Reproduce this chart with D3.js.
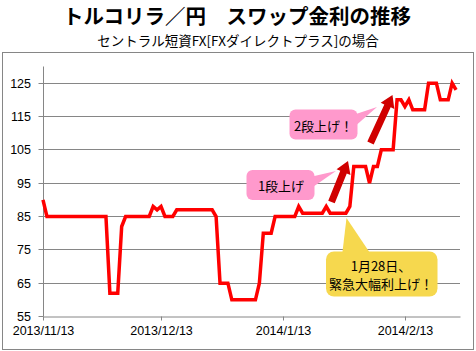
<!DOCTYPE html>
<html><head><meta charset="utf-8">
<script src="https://cdn.jsdelivr.net/npm/d3@7"></script>
<style>body{margin:0;background:#fff}svg{display:block}</style>
</head><body>
<script>
const title = "トルコリラ／円　スワップ金利の推移";
const subtitle = "セントラル短資FX[FXダイレクトプラス]の場合";
const dates = [
"2013-11-13","2013-11-14","2013-11-15","2013-11-16","2013-11-17","2013-11-18","2013-11-19","2013-11-20","2013-11-21","2013-11-22",
"2013-11-23","2013-11-24","2013-11-25","2013-11-26","2013-11-27","2013-11-28","2013-11-29","2013-11-30",
"2013-12-01","2013-12-02","2013-12-03","2013-12-04","2013-12-05","2013-12-06","2013-12-07","2013-12-08","2013-12-09","2013-12-10",
"2013-12-11","2013-12-12","2013-12-13","2013-12-14","2013-12-15","2013-12-16","2013-12-17","2013-12-18","2013-12-19","2013-12-20",
"2013-12-21","2013-12-22","2013-12-23","2013-12-24","2013-12-25","2013-12-26","2013-12-27","2013-12-28","2013-12-29","2013-12-30","2013-12-31",
"2014-01-01","2014-01-02","2014-01-03","2014-01-04","2014-01-05","2014-01-06","2014-01-07","2014-01-08","2014-01-09","2014-01-10",
"2014-01-11","2014-01-12","2014-01-13","2014-01-14","2014-01-15","2014-01-16","2014-01-17","2014-01-18","2014-01-19","2014-01-20",
"2014-01-21","2014-01-22","2014-01-23","2014-01-24","2014-01-25","2014-01-26","2014-01-27","2014-01-28","2014-01-29","2014-01-30","2014-01-31",
"2014-02-01","2014-02-02","2014-02-03","2014-02-04","2014-02-05","2014-02-06","2014-02-07","2014-02-08","2014-02-09","2014-02-10",
"2014-02-11","2014-02-12","2014-02-13","2014-02-14","2014-02-15","2014-02-16","2014-02-17","2014-02-18","2014-02-19","2014-02-20",
"2014-02-21","2014-02-22","2014-02-23","2014-02-24","2014-02-25","2014-02-26"
];
const swap = [
90,85,85,85,85,85,85,85,85,85,85,85,85,85,85,85,85,
62,62,62,82,85,85,85,85,85,85,85,88,87,88,85,85,85,
87,87,87,87,87,87,87,87,87,87,85,65,65,65,
60,60,60,60,60,60,60,65,80,80,80,85,85,85,85,85,85,
88,86,86,86,86,86,86,88,86,86,86,86,86,88,
100,100,100,100,95,100,100,105,105,105,105,
120,120,118,120,117,117,117,117,125,125,125,120,120,120,125,123
];
const yTicks = [55,65,75,85,95,105,115,125];
const xTickLabels = ["2013/11/13","2013/12/13","2014/1/13","2014/2/13"];
const xDomain = ["2013-11-13","2014-02-27"];
const yDomain = [55,130];
const note1 = "1段上げ";
const note2 = "2段上げ！";
const note3 = ["1月28日、","緊急大幅利上げ！"];

const parse = d3.timeParse("%Y-%m-%d");
const parseTick = d3.timeParse("%Y/%m/%d");
const W = 476, H = 351;
const svg = d3.select("body").append("svg").attr("width",W).attr("height",H);
const JP = "'Noto Sans CJK JP','Noto Sans',sans-serif";
const NUM = "'Liberation Sans',Arial,sans-serif";
const gridC = "#868686";

svg.append("rect").attr("x",2.5).attr("y",52.5).attr("width",471).attr("height",297)
  .attr("fill","#fff").attr("stroke",gridC);

svg.append("text").attr("x",237).attr("y",15).attr("text-anchor","middle")
  .attr("dominant-baseline","central").attr("font-family",JP).attr("font-weight","bold")
  .attr("font-size",20.5).text(title);
svg.append("text").attr("x",238).attr("y",40).attr("text-anchor","middle")
  .attr("dominant-baseline","central").attr("font-family",JP)
  .attr("font-size",13.5).text(subtitle);

const x = d3.scaleTime().domain(xDomain.map(parse)).range([43,460]);
const y = d3.scaleLinear().domain(yDomain).range([316.5,66.5]);
const py = v => Math.floor(y(v)) + 0.5;

// gridlines
svg.append("g").selectAll("line").data(yTicks.filter(v=>v>yDomain[0])).join("line")
  .attr("x1",43).attr("x2",460).attr("y1",py).attr("y2",py)
  .attr("stroke",gridC).attr("stroke-width",1);

// y axis
const ya = svg.append("g").attr("transform","translate(43.5,0)")
  .call(d3.axisLeft(y).tickValues(yTicks).tickSize(5).tickSizeOuter(0));
ya.select(".domain").attr("stroke",gridC).attr("d",`M0,${y(yDomain[1])}V${py(yDomain[0])}`);
ya.selectAll(".tick").attr("transform",d=>`translate(0,${py(d)})`);
ya.selectAll(".tick line").attr("stroke",gridC);
ya.selectAll(".tick text").attr("x",-12.5).attr("font-family",NUM).attr("font-size",12.5).attr("fill","#000");

// x axis
const xa = svg.append("g").attr("transform",`translate(0,${py(yDomain[0])})`)
  .call(d3.axisBottom(x).tickValues(xTickLabels.map(parseTick)).tickSize(4).tickSizeOuter(0)
    .tickFormat((d,i)=>xTickLabels[i]));
xa.select(".domain").attr("stroke",gridC);
xa.selectAll(".tick").attr("transform",d=>`translate(${Math.round(x(d))+0.5},0)`);
xa.selectAll(".tick line").attr("stroke",gridC);
xa.selectAll(".tick text").attr("y",10).attr("font-family",NUM).attr("font-size",12.5).attr("fill","#000");

// line
const line = d3.line().x((d,i)=>x(parse(dates[i]))).y(d=>y(d));
svg.append("path").datum(swap).attr("d",line).attr("fill","none")
  .attr("stroke","#FF0000").attr("stroke-width",3.5).attr("stroke-linejoin","miter");

// callouts
const pink = "#FF99CC", yellow = "#F6D84E";
function callout(bx,by,bw,bh,r,tail,fill){
  svg.append("rect").attr("x",bx).attr("y",by).attr("width",bw).attr("height",bh)
    .attr("rx",r).attr("fill",fill);
  svg.append("path").attr("d","M"+tail.map(p=>p.join(",")).join("L")+"Z").attr("fill",fill);
}
callout(246.5,170,68,30,6,[[310,177],[310,189],[336,171]],pink);
svg.append("text").attr("x",281).attr("y",185.5).attr("text-anchor","middle")
  .attr("dominant-baseline","central").attr("font-family",JP).attr("font-size",13).text(note1);
callout(289.5,109.5,68,30,6,[[353,115],[353,128],[377,107]],pink);
svg.append("text").attr("x",323.5).attr("y",125).attr("text-anchor","middle")
  .attr("dominant-baseline","central").attr("font-family",JP).attr("font-size",13).text(note2);
callout(326,251.5,111.5,45,8,[[342,256],[372,256],[346.5,218]],yellow);
note3.forEach((t,i)=>svg.append("text").attr("x",381).attr("y",265.5+i*18)
  .attr("text-anchor","middle").attr("dominant-baseline","central")
  .attr("font-family",JP).attr("font-size",13).text(t));

// arrows
function arrow(x0,y0,x1,y1){
  const dx=x1-x0, dy=y1-y0, L=Math.hypot(dx,dy), ux=dx/L, uy=dy/L, nx=-uy, ny=ux;
  const sw=3.5, hw=7.5, hl=12;
  const hx=x1-ux*hl, hy=y1-uy*hl;
  const pts=[[x0+nx*sw,y0+ny*sw],[hx+nx*sw,hy+ny*sw],[hx+nx*hw,hy+ny*hw],[x1,y1],
    [hx-nx*hw,hy-ny*hw],[hx-nx*sw,hy-ny*sw],[x0-nx*sw,y0-ny*sw]];
  svg.append("path").attr("d","M"+pts.map(p=>p.join(",")).join("L")+"Z").attr("fill","#D00000");
}
arrow(331.5,202,348,161);
arrow(370.5,143,392.5,95);
</script>
</body></html>
